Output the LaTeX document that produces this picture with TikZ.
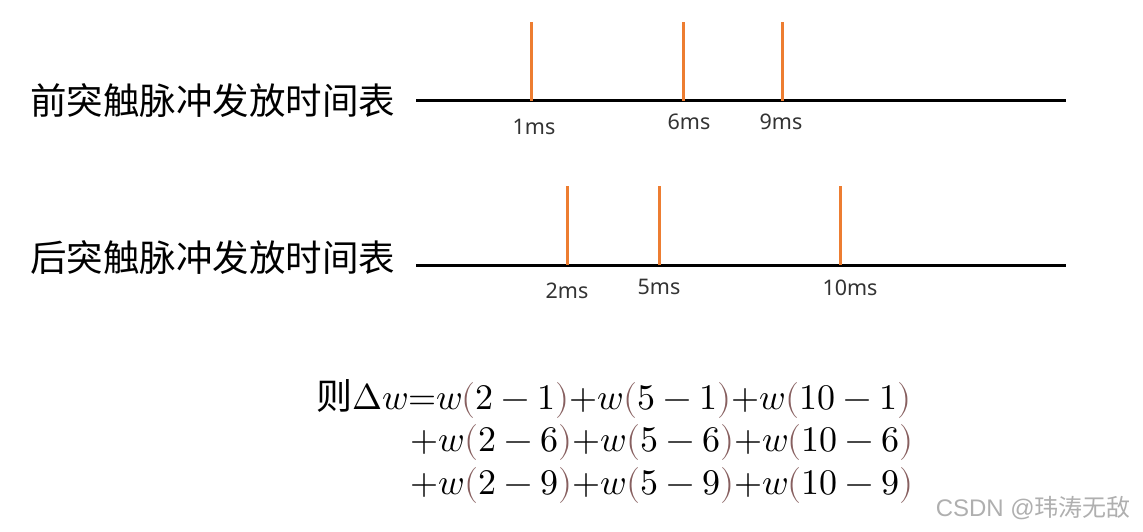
\documentclass[tikz,border=0pt]{standalone}
\usepackage{fontspec}
\usepackage{unicode-math}
\setmathfont{Latin Modern Math}
\setsansfont{Noto Sans}
\newfontfamily\cjk{Noto Sans CJK SC}
\newfontfamily\wmfont{Liberation Sans}
\definecolor{tickorange}{RGB}{237,125,49}
\definecolor{parcol}{RGB}{135,95,95}
\definecolor{wmgray}{RGB}{175,175,175}
\newcommand{\lpar}{\mathopen{\textcolor{parcol}{(}}}
\newcommand{\rpar}{\mathclose{\textcolor{parcol}{)}}}
\tikzset{
  axisline/.style={line width=3pt, black},
  spike/.style={line width=3pt, tickorange},
  mslabel/.style={font=\sffamily\fontsize{21.5}{25}\selectfont, text=black!80, inner sep=0pt},
  rowlabel/.style={font=\cjk\fontsize{36.5}{42}\selectfont, inner sep=0pt, anchor=west},
  formula/.style={font=\fontsize{36}{42}\selectfont, inner sep=0pt, anchor=base west},
}
\begin{document}
\begin{tikzpicture}[x=1pt,y=-1pt]
\useasboundingbox (0,0) rectangle (1143,532);
% row 1
\node[rowlabel] (lab1) at (30,101) {前突触脉冲发放时间表};
\coordinate (a1) at (416,101);
\coordinate (b1) at (1066,101);
\draw[axisline] (a1) -- (b1);
\coordinate (p1b) at (531,101); \coordinate (p1t) at (531,22);
\coordinate (p6b) at (683,101); \coordinate (p6t) at (683,22);
\coordinate (p9b) at (782,101); \coordinate (p9t) at (782,22);
\draw[spike] (p1b) -- (p1t);
\draw[spike] (p6b) -- (p6t);
\draw[spike] (p9b) -- (p9t);
\node[mslabel] (l1) at (534,127) {1ms};
\node[mslabel] (l6) at (689,122) {6ms};
\node[mslabel] (l9) at (781,122) {9ms};
% row 2
\node[rowlabel] (lab2) at (30,258) {后突触脉冲发放时间表};
\coordinate (a2) at (416,265);
\coordinate (b2) at (1066,265);
\draw[axisline] (a2) -- (b2);
\coordinate (q2b) at (567,265); \coordinate (q2t) at (567,186);
\coordinate (q5b) at (659,265); \coordinate (q5t) at (659,186);
\coordinate (q10b) at (840,265); \coordinate (q10t) at (840,186);
\draw[spike] (q2b) -- (q2t);
\draw[spike] (q5b) -- (q5t);
\draw[spike] (q10b) -- (q10t);
\node[mslabel] (l2) at (567,291) {2ms};
\node[mslabel] (l5) at (659,287) {5ms};
\node[mslabel] (l10) at (850,288) {10ms};
% formula
\node[formula] (f1) at (316,409) {{\cjk 则}$\Delta w{=}w\lpar 2-1\rpar{+}w\lpar 5-1\rpar{+}w\lpar 10-1\rpar$};
\node[formula] (f2) at (410,451) {$+w\lpar 2-6\rpar{+}w\lpar 5-6\rpar{+}w\lpar 10-6\rpar$};
\node[formula] (f3) at (410,494) {$+w\lpar 2-9\rpar{+}w\lpar 5-9\rpar{+}w\lpar 10-9\rpar$};
% watermark
\node[font=\wmfont\fontsize{24}{28}\selectfont, text=wmgray, inner sep=0pt, anchor=east] (wm) at (1131,508) {CSDN @{\cjk 玮涛无敌}};
\end{tikzpicture}
\end{document}
